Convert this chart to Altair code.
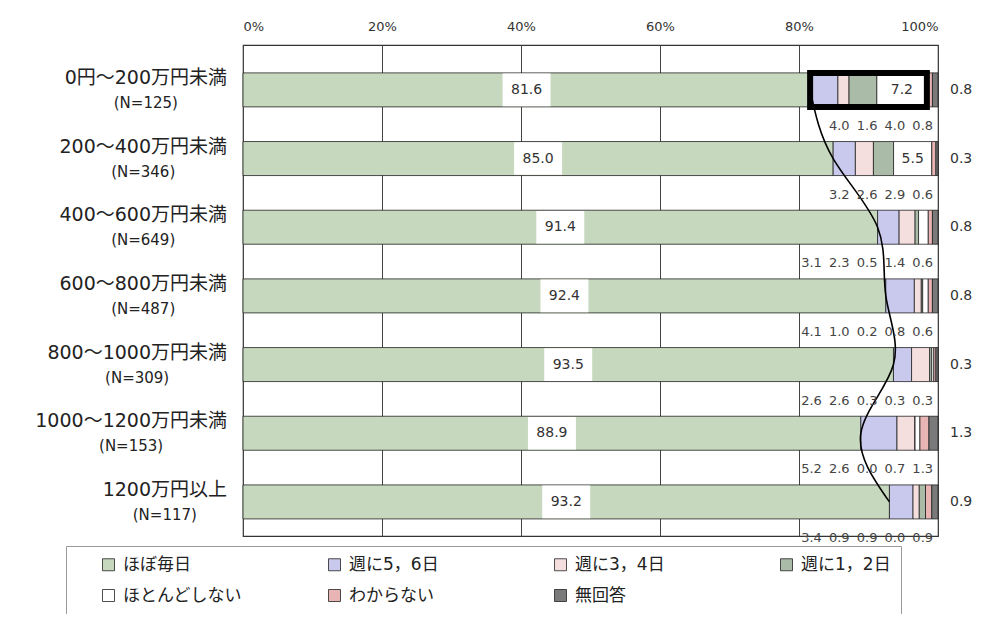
import altair as alt
import pandas as pd

# ---- data ----
rows = ["0円～200万円未満", "200～400万円未満", "400～600万円未満", "600～800万円未満",
        "800～1000万円未満", "1000～1200万円未満", "1200万円以上"]
ns = ["(N=125)", "(N=346)", "(N=649)", "(N=487)", "(N=309)", "(N=153)", "(N=117)"]
cats = ["ほぼ毎日", "週に5，6日", "週に3，4日", "週に1，2日", "ほとんどしない", "わからない", "無回答"]
mainichi = [81.6, 85.0, 91.4, 92.4, 93.5, 88.9, 93.2]
shu56 = [4.0, 3.2, 3.1, 4.1, 2.6, 5.2, 3.4]
shu34 = [1.6, 2.6, 2.3, 1.0, 2.6, 2.6, 0.9]
shu12 = [4.0, 2.9, 0.5, 0.2, 0.3, 0.0, 0.9]
hotondo = [7.2, 5.5, 1.4, 0.8, 0.3, 0.7, 0.0]
wakaranai = [0.8, 0.6, 0.6, 0.6, 0.3, 1.3, 0.9]
mukaitou = [0.8, 0.3, 0.8, 0.8, 0.3, 1.3, 0.9]
colors = ["#c6d8bd", "#c9c9ee", "#f5dede", "#aabba7", "#ffffff", "#e8b4b4", "#7a7a7a"]

series = [mainichi, shu56, shu34, shu12, hotondo, wakaranai, mukaitou]
records = []
for ri, r in enumerate(rows):
    for ci, c in enumerate(cats):
        records.append({"row": r, "ri": ri, "cat": c, "ci": ci, "value": series[ci][ri]})
df = pd.DataFrame(records)
lab_df = pd.DataFrame({"row": rows, "main": rows, "n": ns, "ri": list(range(len(rows)))})

FONT = "DejaVu Sans, Noto Sans CJK JP"
NUMFONT = "DejaVu Sans"

xscale = alt.Scale(domain=[0, 1], nice=False, zero=False)
yscale = alt.Scale(paddingInner=0.505, paddingOuter=0.3275, align=0.62)


def X(field, **kw):
    return alt.X(field, scale=xscale, title=None, **kw)


Y = alt.Y("row:N", sort=rows, scale=yscale, axis=None)

base = alt.Chart(df)
stk = base.transform_stack(
    stack="value", groupby=["row"], as_=["x0", "x1"],
    sort=[alt.SortField("ci", order="ascending")], offset="normalize"
).transform_calculate(mid="(datum.x0 + datum.x1) / 2")

bars = stk.mark_bar(stroke="#222", strokeWidth=0.8).encode(
    x=X("x0:Q", axis=alt.Axis(orient="top", values=[0, 0.2, 0.4, 0.6, 0.8, 1.0], format=".0%",
                               grid=True, gridColor="#444", gridWidth=1, ticks=False,
                               domain=False, labelPadding=12, labelFontSize=13,
                               labelColor="#333", labelFont=NUMFONT)),
    x2="x1:Q",
    y=Y,
    color=alt.Color("cat:N", scale=alt.Scale(domain=cats, range=colors),
                    legend=alt.Legend(title=None, orient="none", legendX=-177, legendY=501,
                                      direction="horizontal", columns=4, gridAlign="all",
                                      columnPadding=60, rowPadding=13, symbolType="square",
                                      symbolSize=144, symbolStrokeColor="#222",
                                      symbolStrokeWidth=0.8, symbolOffset=24,
                                      labelFontSize=17, labelFont=FONT, labelColor="#222",
                                      labelOffset=6, padding=10, strokeColor="#999",
                                      fillColor="white", labelLimit=400)),
)

# white boxes behind the main-segment labels
box = stk.transform_filter("datum.ci == 0").mark_point(
    shape="M-1,-0.68H1V0.68H-1Z", size=48 * 48, filled=True, color="white",
    opacity=1, strokeWidth=0
).encode(x=X("mid:Q"), y=Y)

# hand-drawn style curve along the ほぼ毎日 boundary
curve = stk.transform_filter("datum.ci == 0").mark_line(
    interpolate="natural", color="black", strokeWidth=1.6
).encode(x=X("x1:Q"), y=Y, order="ri:Q")

# highlight box on the first row
annot = stk.transform_filter(
    "datum.ri == 0 && datum.ci >= 1 && datum.ci <= 4"
).transform_aggregate(a0="min(x0)", a1="max(x1)", groupby=["row"]).mark_bar(
    fill="transparent", stroke="black", strokeWidth=6
).encode(x=X("a0:Q"), x2="a1:Q", y=Y)

INSIDE = "(datum.ci == 0 || (datum.ci == 4 && datum.value >= 5))"

txt_in = stk.transform_filter(INSIDE).mark_text(
    fontSize=14, color="#333", font=NUMFONT
).encode(x=X("mid:Q"), y=Y, text=alt.Text("value:Q", format=".1f"))

txt_below = stk.transform_filter(
    f"datum.ci >= 1 && datum.ci <= 5 && !{INSIDE}"
).transform_window(
    j="row_number()", groupby=["row"], sort=[alt.SortField("ci", order="descending")]
).transform_calculate(bx="0.978 - 0.04 * (datum.j - 1)").mark_text(
    fontSize=13, color="#444", font=NUMFONT, dy=36
).encode(x=X("bx:Q"), y=Y, text=alt.Text("value:Q", format=".1f"))

txt_right = stk.transform_filter("datum.ci == 6").mark_text(
    fontSize=14, color="#333", font=NUMFONT, align="left", dx=12
).encode(x=X("x1:Q"), y=Y, text=alt.Text("value:Q", format=".1f"))

labels = alt.Chart(lab_df).transform_calculate(
    nd="length(datum.main) - length(replace(datum.main, regexp('[0-9]', 'g'), ''))"
).transform_calculate(
    w="datum.nd * 12.1 + (length(datum.main) - datum.nd) * 19"
).transform_calculate(
    mx="-16 / 695", nx="(-16 - datum.w / 2) / 695"
)
lab_main = labels.mark_text(fontSize=19, font=FONT, align="right", dy=-12, color="#222").encode(
    x=X("mx:Q"), y=Y, text="main:N")
lab_n = labels.mark_text(fontSize=15, font=FONT, align="center", dy=13, color="#222").encode(
    x=X("nx:Q"), y=Y, text="n:N")

chart = alt.layer(bars, box, curve, annot, txt_in, txt_below, txt_right, lab_main, lab_n).properties(
    width=695, height=491,
    autosize=alt.AutoSizeParams(type="none"),
    padding={"left": 235, "top": 37, "right": 37, "bottom": 78},
).configure(font=FONT).configure_view(stroke="#333", strokeWidth=1.2)

chart.save("out.html", embed_options={"renderer": "svg", "actions": False})
